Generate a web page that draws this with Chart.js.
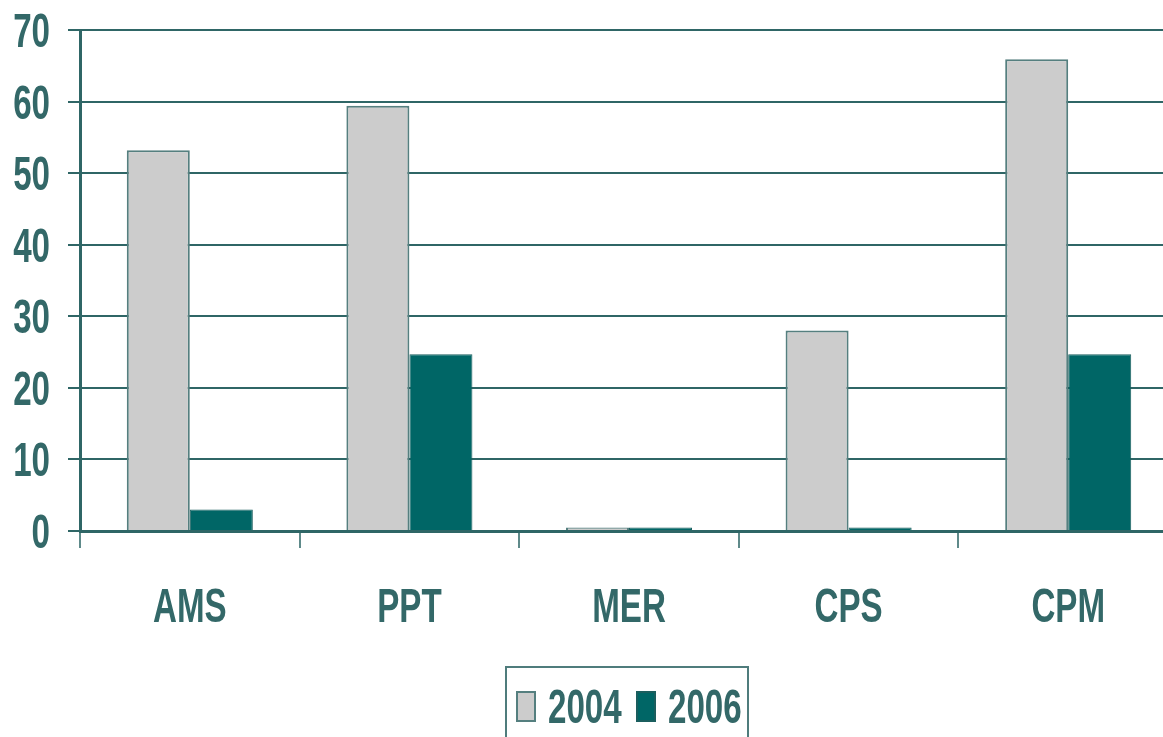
<!DOCTYPE html>
<html>
<head>
<meta charset="utf-8">
<script src="https://cdn.jsdelivr.net/npm/chart.js@4"></script>
<style>
  html, body { margin: 0; padding: 0; background: #fff; overflow: hidden; }
  #wrap { position: absolute; left: 0; top: 0; }
</style>
</head>
<body>
<div id="wrap"><canvas id="chart" width="1178" height="760"></canvas></div>
<script>
// Datos
var categories = ['AMS', 'PPT', 'MER', 'CPS', 'CPM'];
var seriesNames = ['2004', '2006'];
var values2004 = [53.2, 59.4, 0.5, 28, 65.9];
var values2006 = [3, 24.7, 0.5, 0.5, 24.7];
var yTicks = [0, 10, 20, 30, 40, 50, 60, 70];

var textColor = '#336868';
var lineColor = '#2f6666';
var labelFont = "bold 48px 'Liberation Sans', Arial, sans-serif";
var squeeze = 0.69; // fuente estrecha simulada

// texto comprimido horizontalmente
function narrowText(ctx, text, x, y, align) {
    ctx.save();
    ctx.translate(x, y);
    ctx.scale(squeeze, 1);
    ctx.textAlign = align;
    ctx.textBaseline = 'alphabetic';
    ctx.fillText(text, 0, 0);
    ctx.restore();
}

// Etiquetas de ejes y leyenda con marco
var narrowLabels = {
    id: 'narrowLabels',
    afterDraw: function (chart) {
        var ctx = chart.ctx;
        var xs = chart.scales.x, ys = chart.scales.y;
        ctx.save();
        ctx.font = labelFont;
        ctx.fillStyle = textColor;
        ys.ticks.forEach(function (t, i) {
            narrowText(ctx, String(t.value), xs.left - 30, ys.getPixelForTick(i) + 17, 'right');
        });
        chart.data.labels.forEach(function (lab, i) {
            narrowText(ctx, lab, xs.getPixelForTick(i), 622, 'center');
        });

        // leyenda
        ctx.strokeStyle = '#4f7c7c';
        ctx.lineWidth = 2;
        ctx.strokeRect(506, 667, 242, 90);
        var x = 516;
        chart.data.datasets.forEach(function (ds) {
            ctx.fillStyle = ds.backgroundColor;
            ctx.strokeStyle = ds.borderColor;
            ctx.fillRect(x, 691, 20, 31);
            ctx.strokeRect(x + 1, 692, 18, 29);
            ctx.fillStyle = textColor;
            narrowText(ctx, ds.label, x + 32, 723, 'left');
            x += 120;
        });
        ctx.restore();
    }
};

new Chart(document.getElementById('chart'), {
    type: 'bar',
    data: {
        labels: categories,
        datasets: [{
            label: seriesNames[0],
            data: values2004,
            backgroundColor: '#cccccc',
            borderColor: '#557f7f',
            borderWidth: 2
        }, {
            label: seriesNames[1],
            data: values2006,
            backgroundColor: '#006666',
            borderColor: '#1b5e5e',
            borderWidth: 1
        }]
    },
    options: {
        responsive: false,
        animation: false,
        devicePixelRatio: 1,
        categoryPercentage: 0.574,
        barPercentage: 1,
        layout: { padding: { top: 30, left: 0, right: 0, bottom: 0 } },
        plugins: {
            legend: { display: false },
            tooltip: { enabled: false }
        },
        scales: {
            x: {
                offset: true,
                grid: {
                    offset: true,
                    drawOnChartArea: false,
                    drawTicks: true,
                    tickLength: 17,
                    color: '#5f8a8a',
                    lineWidth: 2
                },
                border: { color: lineColor, width: 3 },
                ticks: { display: false },
                afterFit: function (scale) { scale.height = 229; }
            },
            y: {
                min: 0,
                max: 70,
                afterBuildTicks: function (scale) {
                    scale.ticks = yTicks.map(function (v) { return { value: v }; });
                },
                grid: {
                    color: lineColor,
                    lineWidth: 2,
                    drawTicks: true,
                    tickLength: 12
                },
                border: { color: lineColor, width: 3 },
                ticks: { display: false },
                afterFit: function (scale) { scale.width = 80; }
            }
        }
    },
    plugins: [narrowLabels]
});
</script>
</body>
</html>
